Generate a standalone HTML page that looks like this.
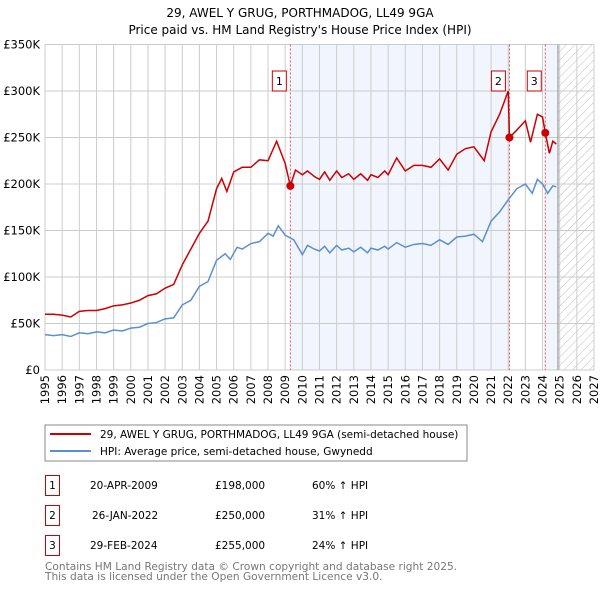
<!DOCTYPE html>
<html><head><meta charset="utf-8"><style>
body{margin:0;background:#fff;width:600px;height:590px;overflow:hidden;font-family:"DejaVu Sans","Liberation Sans",sans-serif}
svg text{font-family:"DejaVu Sans","Liberation Sans",sans-serif}
</style></head><body>
<svg id="c" width="600" height="590" xmlns="http://www.w3.org/2000/svg">
<defs><pattern id="hatch" width="6" height="6" patternUnits="userSpaceOnUse" patternTransform="rotate(45)"><line x1="0" y1="0" x2="0" y2="6" stroke="#bbb" stroke-width="1"/></pattern></defs>
<text x="300" y="17" text-anchor="middle" font-size="12">29, AWEL Y GRUG, PORTHMADOG, LL49 9GA</text>
<text x="300" y="34" text-anchor="middle" font-size="12">Price paid vs. HM Land Registry's House Price Index (HPI)</text>
<g id="plot"></g>
<rect x="45" y="425" width="422" height="36" fill="#fff" stroke="#888"/>
<line x1="50" y1="434" x2="91" y2="434" stroke="#cc0000" stroke-width="2"/>
<text x="100" y="438" font-size="10.5">29, AWEL Y GRUG, PORTHMADOG, LL49 9GA (semi-detached house)</text>
<line x1="50" y1="451" x2="91" y2="451" stroke="#5b8fd0" stroke-width="2"/>
<text x="100" y="455" font-size="10.5">HPI: Average price, semi-detached house, Gwynedd</text>
<g font-size="10.5">
<rect x="45.5" y="475.5" width="14" height="20" fill="none" stroke="#cc0000"/><text x="52.5" y="489" text-anchor="middle">1</text>
<text x="90" y="489">20-APR-2009</text><text x="215" y="489">£198,000</text><text x="312" y="489">60% ↑ HPI</text>
<rect x="45.5" y="505.5" width="14" height="20" fill="none" stroke="#cc0000"/><text x="52.5" y="519" text-anchor="middle">2</text>
<text x="92" y="519">26-JAN-2022</text><text x="215" y="519">£250,000</text><text x="312" y="519">31% ↑ HPI</text>
<rect x="45.5" y="535.5" width="14" height="20" fill="none" stroke="#cc0000"/><text x="52.5" y="549" text-anchor="middle">3</text>
<text x="90" y="549">29-FEB-2024</text><text x="215" y="549">£255,000</text><text x="312" y="549">24% ↑ HPI</text>
</g>
<text x="45" y="570" font-size="10.6" fill="#777">Contains HM Land Registry data © Crown copyright and database right 2025.</text>
<text x="45" y="580" font-size="10.6" fill="#777">This data is licensed under the Open Government Licence v3.0.</text>
</svg>
<script>
const yTicks=[0,50,100,150,200,250,300,350];
const yTickLabels=["£0","£50K","£100K","£150K","£200K","£250K","£300K","£350K"];
const xYears=[1995,1996,1997,1998,1999,2000,2001,2002,2003,2004,2005,2006,2007,2008,2009,2010,2011,2012,2013,2014,2015,2016,2017,2018,2019,2020,2021,2022,2023,2024,2025,2026,2027];
const hpiT=[1995,1995.5,1996,1996.5,1997,1997.5,1998,1998.5,1999,1999.5,2000,2000.5,2001,2001.5,2002,2002.5,2003,2003.5,2004,2004.5,2005,2005.5,2005.8,2006.2,2006.5,2007,2007.5,2008,2008.3,2008.6,2009,2009.5,2010,2010.3,2010.7,2011,2011.3,2011.6,2012,2012.3,2012.7,2013,2013.4,2013.8,2014,2014.4,2014.8,2015,2015.5,2016,2016.5,2017,2017.5,2018,2018.5,2019,2019.5,2020,2020.5,2021,2021.5,2022,2022.5,2023,2023.4,2023.7,2024,2024.3,2024.6,2024.8];
const hpiV=[38,37,38,36,40,39,41,40,43,42,45,46,50,51,55,56,70,75,90,95,118,125,119,132,130,136,138,147,144,155,145,140,124,134,130,128,133,126,134,129,131,127,132,126,131,129,133,130,137,132,135,136,134,140,135,143,144,146,138,160,170,183,195,200,190,205,200,190,198,197];
const priceT=[1995,1995.5,1996,1996.5,1997,1997.5,1998,1998.5,1999,1999.5,2000,2000.5,2001,2001.5,2002,2002.5,2003,2003.5,2004,2004.5,2005,2005.3,2005.6,2006,2006.5,2007,2007.5,2008,2008.5,2009,2009.3,2009.6,2010,2010.3,2010.7,2011,2011.3,2011.6,2012,2012.3,2012.7,2013,2013.4,2013.8,2014,2014.4,2014.8,2015,2015.5,2016,2016.5,2017,2017.5,2018,2018.5,2019,2019.5,2020,2020.6,2021,2021.5,2022,2022.07,2022.5,2023,2023.3,2023.7,2024,2024.16,2024.4,2024.6,2024.8];
const priceV=[60,60,59,57,63,64,64,66,69,70,72,75,80,82,88,92,113,130,147,160,195,206,192,213,218,218,226,225,246,222,198,215,210,214,208,205,213,204,214,207,211,205,211,204,210,207,214,210,228,214,220,220,218,227,215,232,238,240,225,256,275,300,250,258,268,245,275,272,255,233,246,243];
const sales=[{n:"1",t:2009.3,v:198},{n:"2",t:2022.07,v:250},{n:"3",t:2024.16,v:255}];
const X0=45,X1=594,Y0=370,Y1=44.5;
const xs=t=>X0+(t-1995)/(2027-1995)*(X1-X0);
const ys=v=>Y0-v/350*(Y0-Y1);
const g=document.getElementById('plot');const NS="http://www.w3.org/2000/svg";
function mk(tag,at,parent){const e=document.createElementNS(NS,tag);for(const k in at)e.setAttribute(k,at[k]);(parent||g).appendChild(e);return e;}
let r=mk('rect',{x:xs(2009.3),y:Y1,width:xs(2022.07)-xs(2009.3),height:Y0-Y1,fill:'#eef3fd',opacity:0.8});


r=mk('rect',{x:xs(2024.16),y:Y1,width:xs(2024.9)-xs(2024.16),height:Y0-Y1,fill:'#eef3fd',opacity:0.8});


r=mk('rect',{x:xs(2024.9),y:Y1,width:X1-xs(2024.9),height:Y0-Y1,fill:'url(#hatch)'});


xYears.forEach(yr=>{const l=mk('line',{x1:xs(yr),x2:xs(yr),y1:Y1,y2:Y0,stroke:'#ccc','stroke-width':1});


const tx=xs(yr)+4,ty=Y0+5;const t=mk('text',{x:tx,y:ty,'font-size':11.5,'text-anchor':'end',transform:`rotate(-90 ${tx} ${ty})`});t.textContent=yr;

});
yTicks.forEach((v,i)=>{const l=mk('line',{x1:X0,x2:X1,y1:ys(v),y2:ys(v),stroke:'#ccc','stroke-width':1});


const t=mk('text',{x:40,y:ys(v)+4,'font-size':11.5,'text-anchor':'end'});t.textContent=yTickLabels[i];

});
r=mk('line',{x1:xs(2024.9),x2:xs(2024.9),y1:Y1,y2:Y0,stroke:'#999','stroke-width':1.2});


sales.forEach(s=>{const l=mk('line',{x1:xs(s.t),x2:xs(s.t),y1:Y1,y2:Y0,stroke:'#e05050','stroke-width':1,'stroke-dasharray':'2,2'});

});
let p=mk('polyline',{points:hpiT.map((t,i)=>xs(t)+','+ys(hpiV[i])).join(' '),fill:'none',stroke:'#5b8fd0','stroke-width':1.5});


p=mk('polyline',{points:priceT.map((t,i)=>xs(t)+','+ys(priceV[i])).join(' '),fill:'none',stroke:'#cc0000','stroke-width':1.5});


sales.forEach(s=>{const c=mk('circle',{cx:xs(s.t),cy:ys(s.v),r:4,fill:'#cc0000'});


const bx=xs(s.t)-18,by=71;const b=mk('rect',{x:bx,y:by,width:14,height:20,fill:'#fff',stroke:'#cc0000'});


const t=mk('text',{x:bx+7,y:by+14,'font-size':11,'text-anchor':'middle'});t.textContent=s.n;

});
</script>
</body></html>
